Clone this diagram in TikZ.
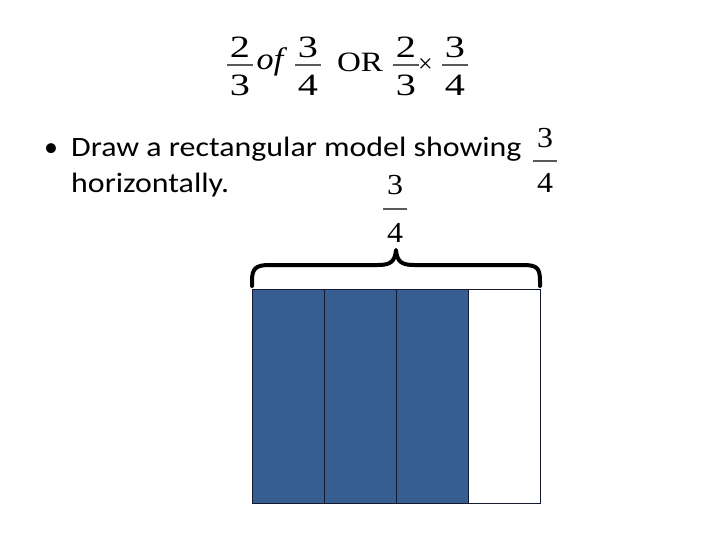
\documentclass[tikz,border=0pt]{standalone}
\usepackage{fontspec}
\usepackage{graphicx}
\setmainfont{Carlito}
\newfontfamily\serifmath{Liberation Serif}
\definecolor{cellblue}{RGB}{54,94,145}
\definecolor{celledge}{RGB}{20,24,48}
\tikzset{
  frt/.style={inner sep=0pt, font=\serifmath\fontsize{31}{36}\selectfont},
  frs/.style={inner sep=0pt, font=\serifmath\fontsize{29}{34}\selectfont},
  frbar/.style={line width=1.6pt, draw=black!65},
  body/.style={inner sep=0pt, anchor=base west, font=\fontsize{28}{34}\selectfont},
  cell/.style={draw=celledge, line width=1pt, minimum width=72pt, minimum height=214pt, inner sep=0pt},
  brace/.style={line width=4pt, line cap=round, line join=round}
}
\newcommand\fracat[9]{% name, style, x, ybar, num, den, halfbar, gapup, gapdown
  \node[#2, anchor=base] (#1n) at (#3,#4-#8) {#5};
  \node[#2, anchor=north] (#1d) at (#3,#4+#9) {#6};
  \draw[frbar] (#3-#7,#4) -- (#3+#7,#4);
}
\newcommand\wt[1]{\scalebox{1.3}[1]{#1}}
\newcommand\ws[1]{\scalebox{1.1}[1]{#1}}
\newcommand\wb[1]{\scalebox{1.14}[1]{#1}}
\begin{document}
\begin{tikzpicture}[x=1pt,y=-1pt]
\useasboundingbox (0,0) rectangle (720,540);
% title
\fracat{fa}{frt}{240}{65}{\wt{2}}{\wt{3}}{13}{7}{10}
\node[frt, anchor=base, font=\serifmath\itshape\fontsize{31}{36}\selectfont] (of) at (270,70) {\scalebox{1.1}[1]{of}};
\fracat{fb}{frt}{308}{65}{\wt{3}}{\wt{4}}{13}{7}{10}
\node[frt, anchor=base, font=\serifmath\fontsize{28}{32}\selectfont] (or) at (360,72) {\scalebox{1.18}[1]{OR}};
\fracat{fc}{frt}{406}{65}{\wt{2}}{\wt{3}}{13}{7}{10}
\node[inner sep=0pt, font=\serifmath\fontsize{26}{30}\selectfont] (times) at (425.5,66) {×};
\fracat{fd}{frt}{455}{65}{\wt{3}}{\wt{4}}{13}{7}{10}
% bullet
\node[body] (bul) at (44,157) {•};
\node[body] (l1) at (71,157) {\wb{Draw a rectangular model showing}};
\node[body] (l2) at (71,193) {\wb{horizontally.}};
\fracat{fe}{frs}{545}{161}{\ws{3}}{\ws{4}}{12}{13}{12}
\fracat{ff}{frs}{395}{209}{\ws{3}}{\ws{4}}{12}{14}{14}
% brace
\draw[brace] (252,286) -- (252,281) .. controls (252,268) and (256,265) .. (270,265) -- (378,265) .. controls (390,265) and (395,262) .. (396,250) .. controls (397,262) and (402,265) .. (414,265) -- (523,265) .. controls (537,265) and (540,268) .. (540,281) -- (540,286);
% cells
\node[cell, fill=cellblue] (c1) at (288,396) {};
\node[cell, fill=cellblue] (c2) at (360,396) {};
\node[cell, fill=cellblue] (c3) at (432,396) {};
\node[cell, fill=white] (c4) at (504,396) {};
\end{tikzpicture}
\end{document}
